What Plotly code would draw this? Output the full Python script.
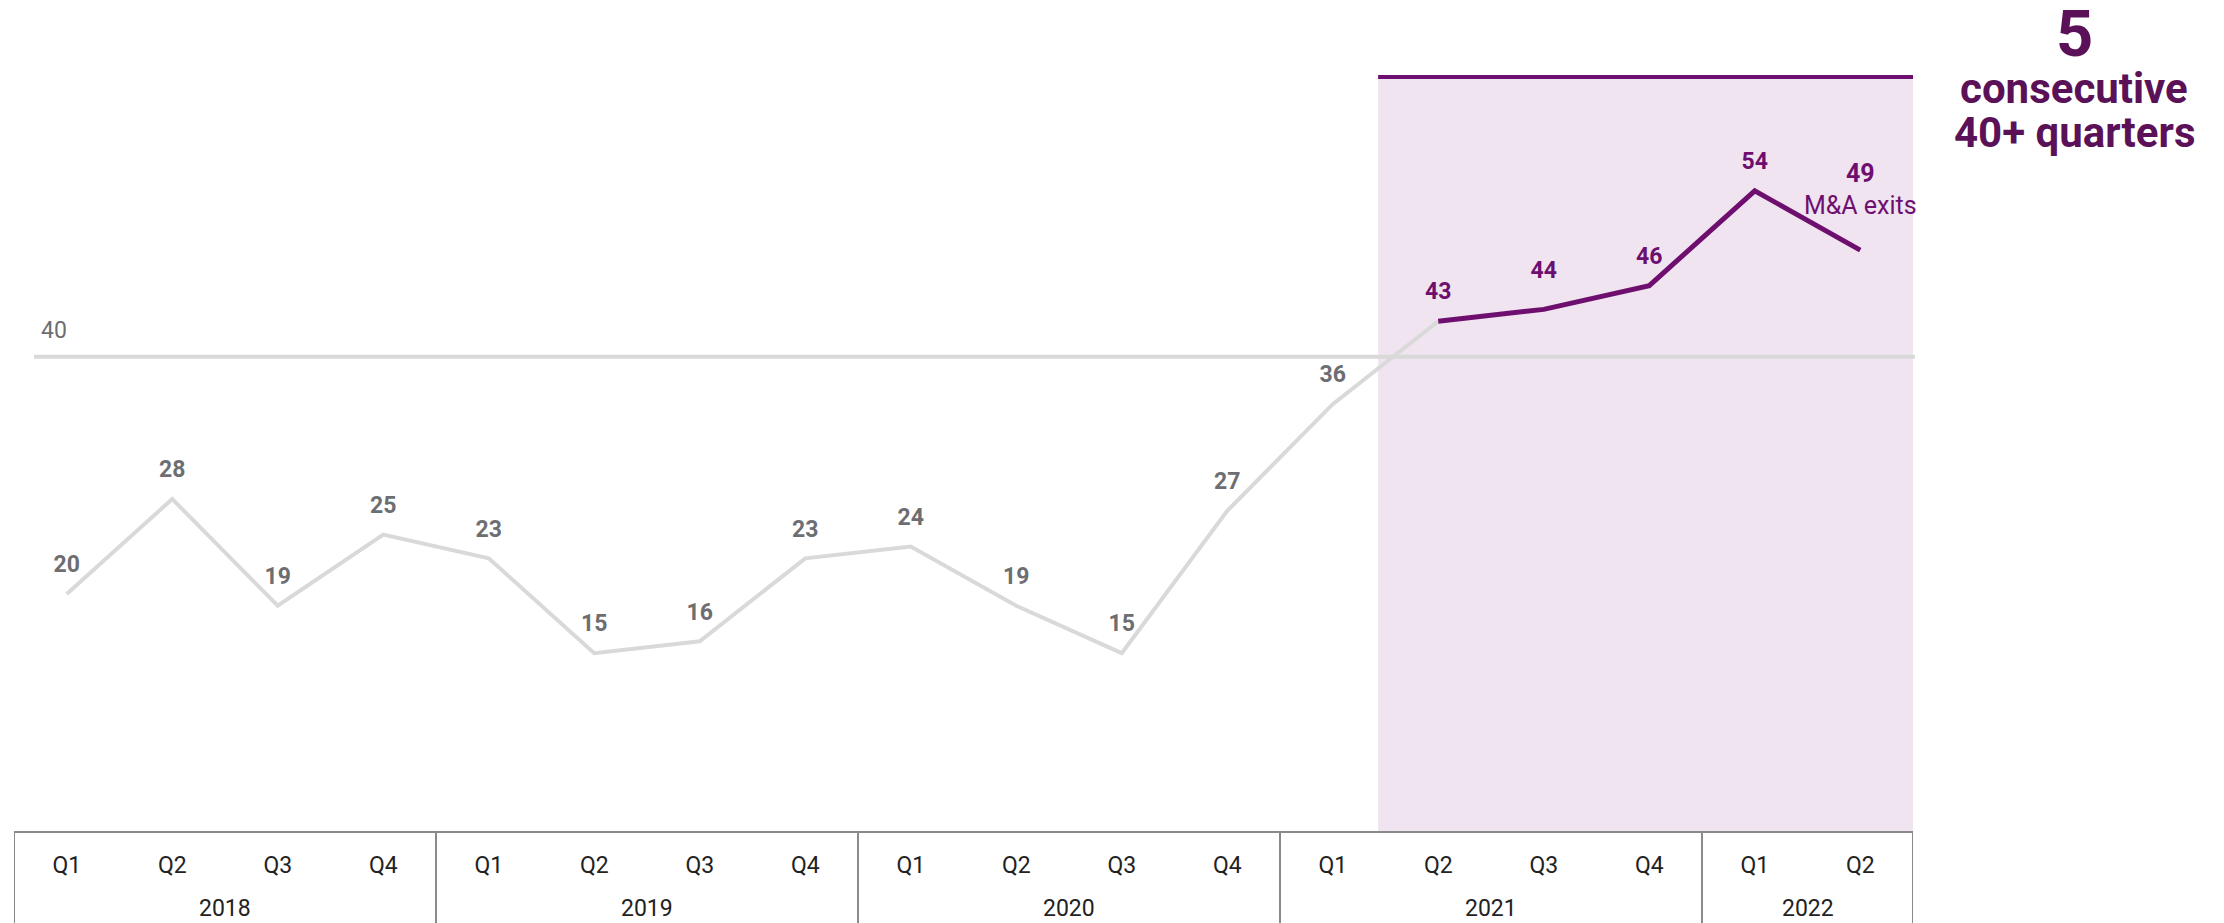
import plotly.graph_objects as go

# ---------------- data ----------------
years = ["2018"] * 4 + ["2019"] * 4 + ["2020"] * 4 + ["2021"] * 4 + ["2022"] * 2
quarters = ["Q1", "Q2", "Q3", "Q4"] * 4 + ["Q1", "Q2"]
exits = [20, 28, 19, 25, 23, 15, 16, 23, 24, 19, 15, 27, 36, 43, 44, 46, 54, 49]
threshold = 40
highlight_start = 13          # first quarter of the 40+ streak (2021 Q2)
last_label_suffix = "M&amp;A exits"
headline_number = "5"
headline_lines = ["consecutive", "40+ quarters"]

# ---------------- styles ----------------
FONT = "Roboto"
GRAY_LINE = "#D9D9D9"
GRAY_TEXT = "#6D6E72"
PURPLE = "#6E0F6F"
DARK_PURPLE = "#5B1158"
SHADE = "#EFE4EF"
AXIS_GRAY = "#8A8A8A"
TICK_TEXT = "#222222"

W, H = 2224, 923
ML, MR, MT, MB = 14, 311, 77, 92
plot_w = W - ML - MR
plot_h = H - MT - MB
n = len(exits)
idx = list(range(n))


def xpaper(px):
    return (px - ML) / plot_w


def ypaper(py):
    return (H - MB - py) / plot_h


fig = go.Figure()

# gray history line (up to and including first 40+ quarter)
g = slice(0, highlight_start + 1)
fig.add_trace(go.Scatter(
    x=idx[g], y=exits[g], mode="lines",
    line=dict(color=GRAY_LINE, width=4), hoverinfo="skip", showlegend=False))

# purple streak line
p = slice(highlight_start, n)
fig.add_trace(go.Scatter(
    x=idx[p], y=exits[p], mode="lines",
    line=dict(color=PURPLE, width=5), hoverinfo="skip", showlegend=False))

# gray value labels
gl = slice(0, highlight_start)
fig.add_trace(go.Scatter(
    x=idx[gl], y=exits[gl], mode="markers+text",
    marker=dict(size=24, color="rgba(0,0,0,0)", line=dict(width=0)),
    text=[str(v) for v in exits[gl]], textposition="top center",
    textfont=dict(family=FONT, size=23, color=GRAY_TEXT, weight="bold"),
    hoverinfo="skip", showlegend=False, cliponaxis=False))

# purple value labels
pv = exits[p]
ptext = ["<b>%d</b>" % v for v in pv]
ptext[-1] = "<b>%d</b><br>%s" % (pv[-1], last_label_suffix)
psizes = [24] * len(pv)
psizes[1] = 40
psizes[-1] = 46
pfont = [23] * len(pv)
pfont[-1] = 25
fig.add_trace(go.Scatter(
    x=idx[p], y=pv, mode="markers+text",
    marker=dict(size=psizes, color="rgba(0,0,0,0)", line=dict(width=0)),
    text=ptext, textposition="top center",
    textfont=dict(family=FONT, size=pfont, color=PURPLE),
    hoverinfo="skip", showlegend=False, cliponaxis=False))

ymax = 63.6
shade_x0 = highlight_start - 0.57

shapes = [
    dict(type="rect", xref="x", yref="paper", x0=shade_x0, x1=n - 0.48, y0=0, y1=1,
         fillcolor=SHADE, line=dict(width=0), layer="below"),
    dict(type="line", xref="paper", yref="y", x0=xpaper(34), x1=1.001, y0=threshold, y1=threshold,
         line=dict(color=GRAY_LINE, width=4), layer="below"),
    dict(type="line", xref="x", yref="paper", x0=shade_x0, x1=n - 0.48, y0=1, y1=1,
         line=dict(color=PURPLE, width=4), layer="below"),
]

# year group dividers and labels
groups = []
for i, y in enumerate(years):
    if not groups or groups[-1][0] != y:
        groups.append([y, i, i])
    else:
        groups[-1][2] = i
bounds = [groups[0][1] - 0.5] + [gr[2] + 0.5 for gr in groups]
for b in bounds:
    shapes.append(dict(type="line", xref="x", yref="paper", x0=b, x1=b,
                       y0=0, y1=-MB / plot_h, line=dict(color=AXIS_GRAY, width=2),
                       layer="above"))

annotations = [
    dict(xref="x", yref="paper", x=(gr[1] + gr[2]) / 2, y=0, text=gr[0],
         xanchor="center", yanchor="middle", yshift=-77, showarrow=False,
         font=dict(family=FONT, size=23, color=TICK_TEXT))
    for gr in groups
]

annotations += [
    dict(xref="paper", yref="y", x=xpaper(34), y=threshold, text=str(threshold),
         xanchor="left", yanchor="middle", xshift=5, yshift=26, showarrow=False,
         font=dict(family=FONT, size=23, color=GRAY_TEXT)),
    dict(xref="paper", yref="paper", x=xpaper(2074), y=ypaper(34), text=headline_number,
         xanchor="center", yanchor="middle", showarrow=False,
         font=dict(family=FONT, size=65, color=DARK_PURPLE, weight="bold")),
    dict(xref="paper", yref="paper", x=xpaper(2074), y=ypaper(89), text=headline_lines[0],
         xanchor="center", yanchor="middle", showarrow=False,
         font=dict(family=FONT, size=42, color=DARK_PURPLE, weight="bold")),
    dict(xref="paper", yref="paper", x=xpaper(2074), y=ypaper(132.5), text=headline_lines[1],
         xanchor="center", yanchor="middle", showarrow=False,
         font=dict(family=FONT, size=42, color=DARK_PURPLE, weight="bold")),
]

fig.update_layout(
    width=W, height=H,
    margin=dict(l=ML, r=MR, t=MT, b=MB, autoexpand=False),
    paper_bgcolor="white", plot_bgcolor="white",
    hovermode=False,
    shapes=shapes, annotations=annotations,
    font=dict(family=FONT, size=23, color=TICK_TEXT),
    xaxis=dict(
        range=[-0.5, n - 0.5],
        tickmode="array", tickvals=idx, ticktext=quarters,
        showline=True, linecolor=AXIS_GRAY, linewidth=2,
        showgrid=False, zeroline=False,
        ticks="outside", ticklen=12, tickcolor="rgba(0,0,0,0)",
        tickfont=dict(family=FONT, size=23, color=TICK_TEXT),
        automargin=False,
    ),
    yaxis=dict(range=[0, ymax], visible=False, showgrid=False, zeroline=False),
)

fig.write_html("out.html", config={"displayModeBar": False})
